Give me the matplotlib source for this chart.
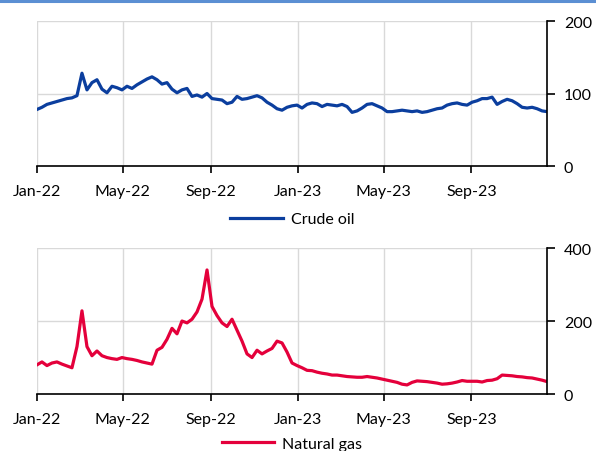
import matplotlib
matplotlib.use("Agg")
import matplotlib.pyplot as plt
from matplotlib.lines import Line2D
import pandas as pd

plt.rcParams['font.family'] = ['Lato', 'DejaVu Sans']

dates = pd.date_range('2022-01-01', periods=103, freq='7D')

crude_oil = [78, 81, 85, 87, 89, 91, 93, 94, 97, 128, 105, 115, 119, 106, 101, 110, 108, 105,
             110, 107, 112, 116, 120, 123, 119, 113, 115, 106, 101, 105, 107, 96, 98, 95, 100,
             93, 92, 91, 86, 88, 96, 92, 93, 95, 97, 94, 88, 84, 79, 77, 81, 83, 84,
             80, 85, 87, 86, 82, 85, 84, 83, 85, 82, 74, 76, 80, 85, 86, 83, 80, 75, 75,
             76, 77, 76, 75, 76, 74, 75, 77, 79, 80, 84, 86, 87, 85, 84, 88, 90, 93, 93,
             95, 85, 89, 92, 90, 86, 81, 80, 81, 79, 76, 75]

natural_gas = [80, 88, 78, 85, 88, 82, 77, 72, 130, 228, 130, 105, 118, 105, 100, 97, 95, 100,
               97, 95, 92, 88, 85, 82, 120, 128, 150, 180, 165, 200, 195, 205, 225, 260, 340,
               240, 215, 195, 185, 205, 175, 145, 110, 100, 120, 110, 118, 125, 145, 140, 115, 85, 78,
               72, 65, 64, 60, 57, 55, 52, 52, 50, 48, 47, 46, 46, 48, 46, 44, 41, 38, 35,
               32, 27, 25, 32, 36, 35, 34, 32, 30, 27, 28, 30, 33, 37, 35, 35, 35, 33, 37,
               38, 42, 52, 51, 50, 48, 47, 45, 44, 41, 38, 34]

tick_dates = pd.to_datetime(['2022-01-01', '2022-05-01', '2022-09-01',
                             '2023-01-01', '2023-05-01', '2023-09-01'])
tick_labels = ['Jan-22', 'May-22', 'Sep-22', 'Jan-23', 'May-23', 'Sep-23']

fig = plt.figure(figsize=(5.96, 4.52), dpi=100)
ax1 = fig.add_axes([0.062, 0.6305, 0.856, 0.3208])
ax2 = fig.add_axes([0.062, 0.126, 0.856, 0.3230])

def style(ax, ymax, step, label, color, series, legend_y):
    ax.plot(dates, series, color=color, lw=2.3, label=label, solid_joinstyle='round')
    ax.set_xlim(pd.Timestamp('2022-01-01'), dates[-1])
    ax.set_ylim(0, ymax)
    ax.set_yticks(range(0, ymax + 1, step))
    ax.set_xticks(tick_dates)
    ax.set_xticklabels(tick_labels)
    ax.yaxis.tick_right()
    for s in ['top', 'left']:
        ax.spines[s].set_visible(False)
    for s in ['right', 'bottom']:
        ax.spines[s].set_color('black')
        ax.spines[s].set_linewidth(1.2)
    ax.grid(True, color='#d9d9d9', lw=1.0)
    ax.set_axisbelow(True)
    ax.tick_params(axis='y', direction='out', length=6, width=1.2, pad=6, labelsize=11.5)
    ax.tick_params(axis='x', direction='out', length=5, width=1.2, pad=8, labelsize=11.5)
    ax.legend(loc='upper center', bbox_to_anchor=(0.5, legend_y), frameon=False,
              handlelength=3.3, fontsize=11.5, handletextpad=0.5)

style(ax1, 200, 100, 'Crude oil', '#0B3E9E', crude_oil, -0.22)
style(ax2, 400, 200, 'Natural gas', '#E4003B', natural_gas, -0.195)

fig.add_artist(Line2D([0, 1], [0.9965, 0.9965], color='#5B8FD3', lw=2.2,
                      transform=fig.transFigure))

fig.savefig('out.png', dpi=100)
